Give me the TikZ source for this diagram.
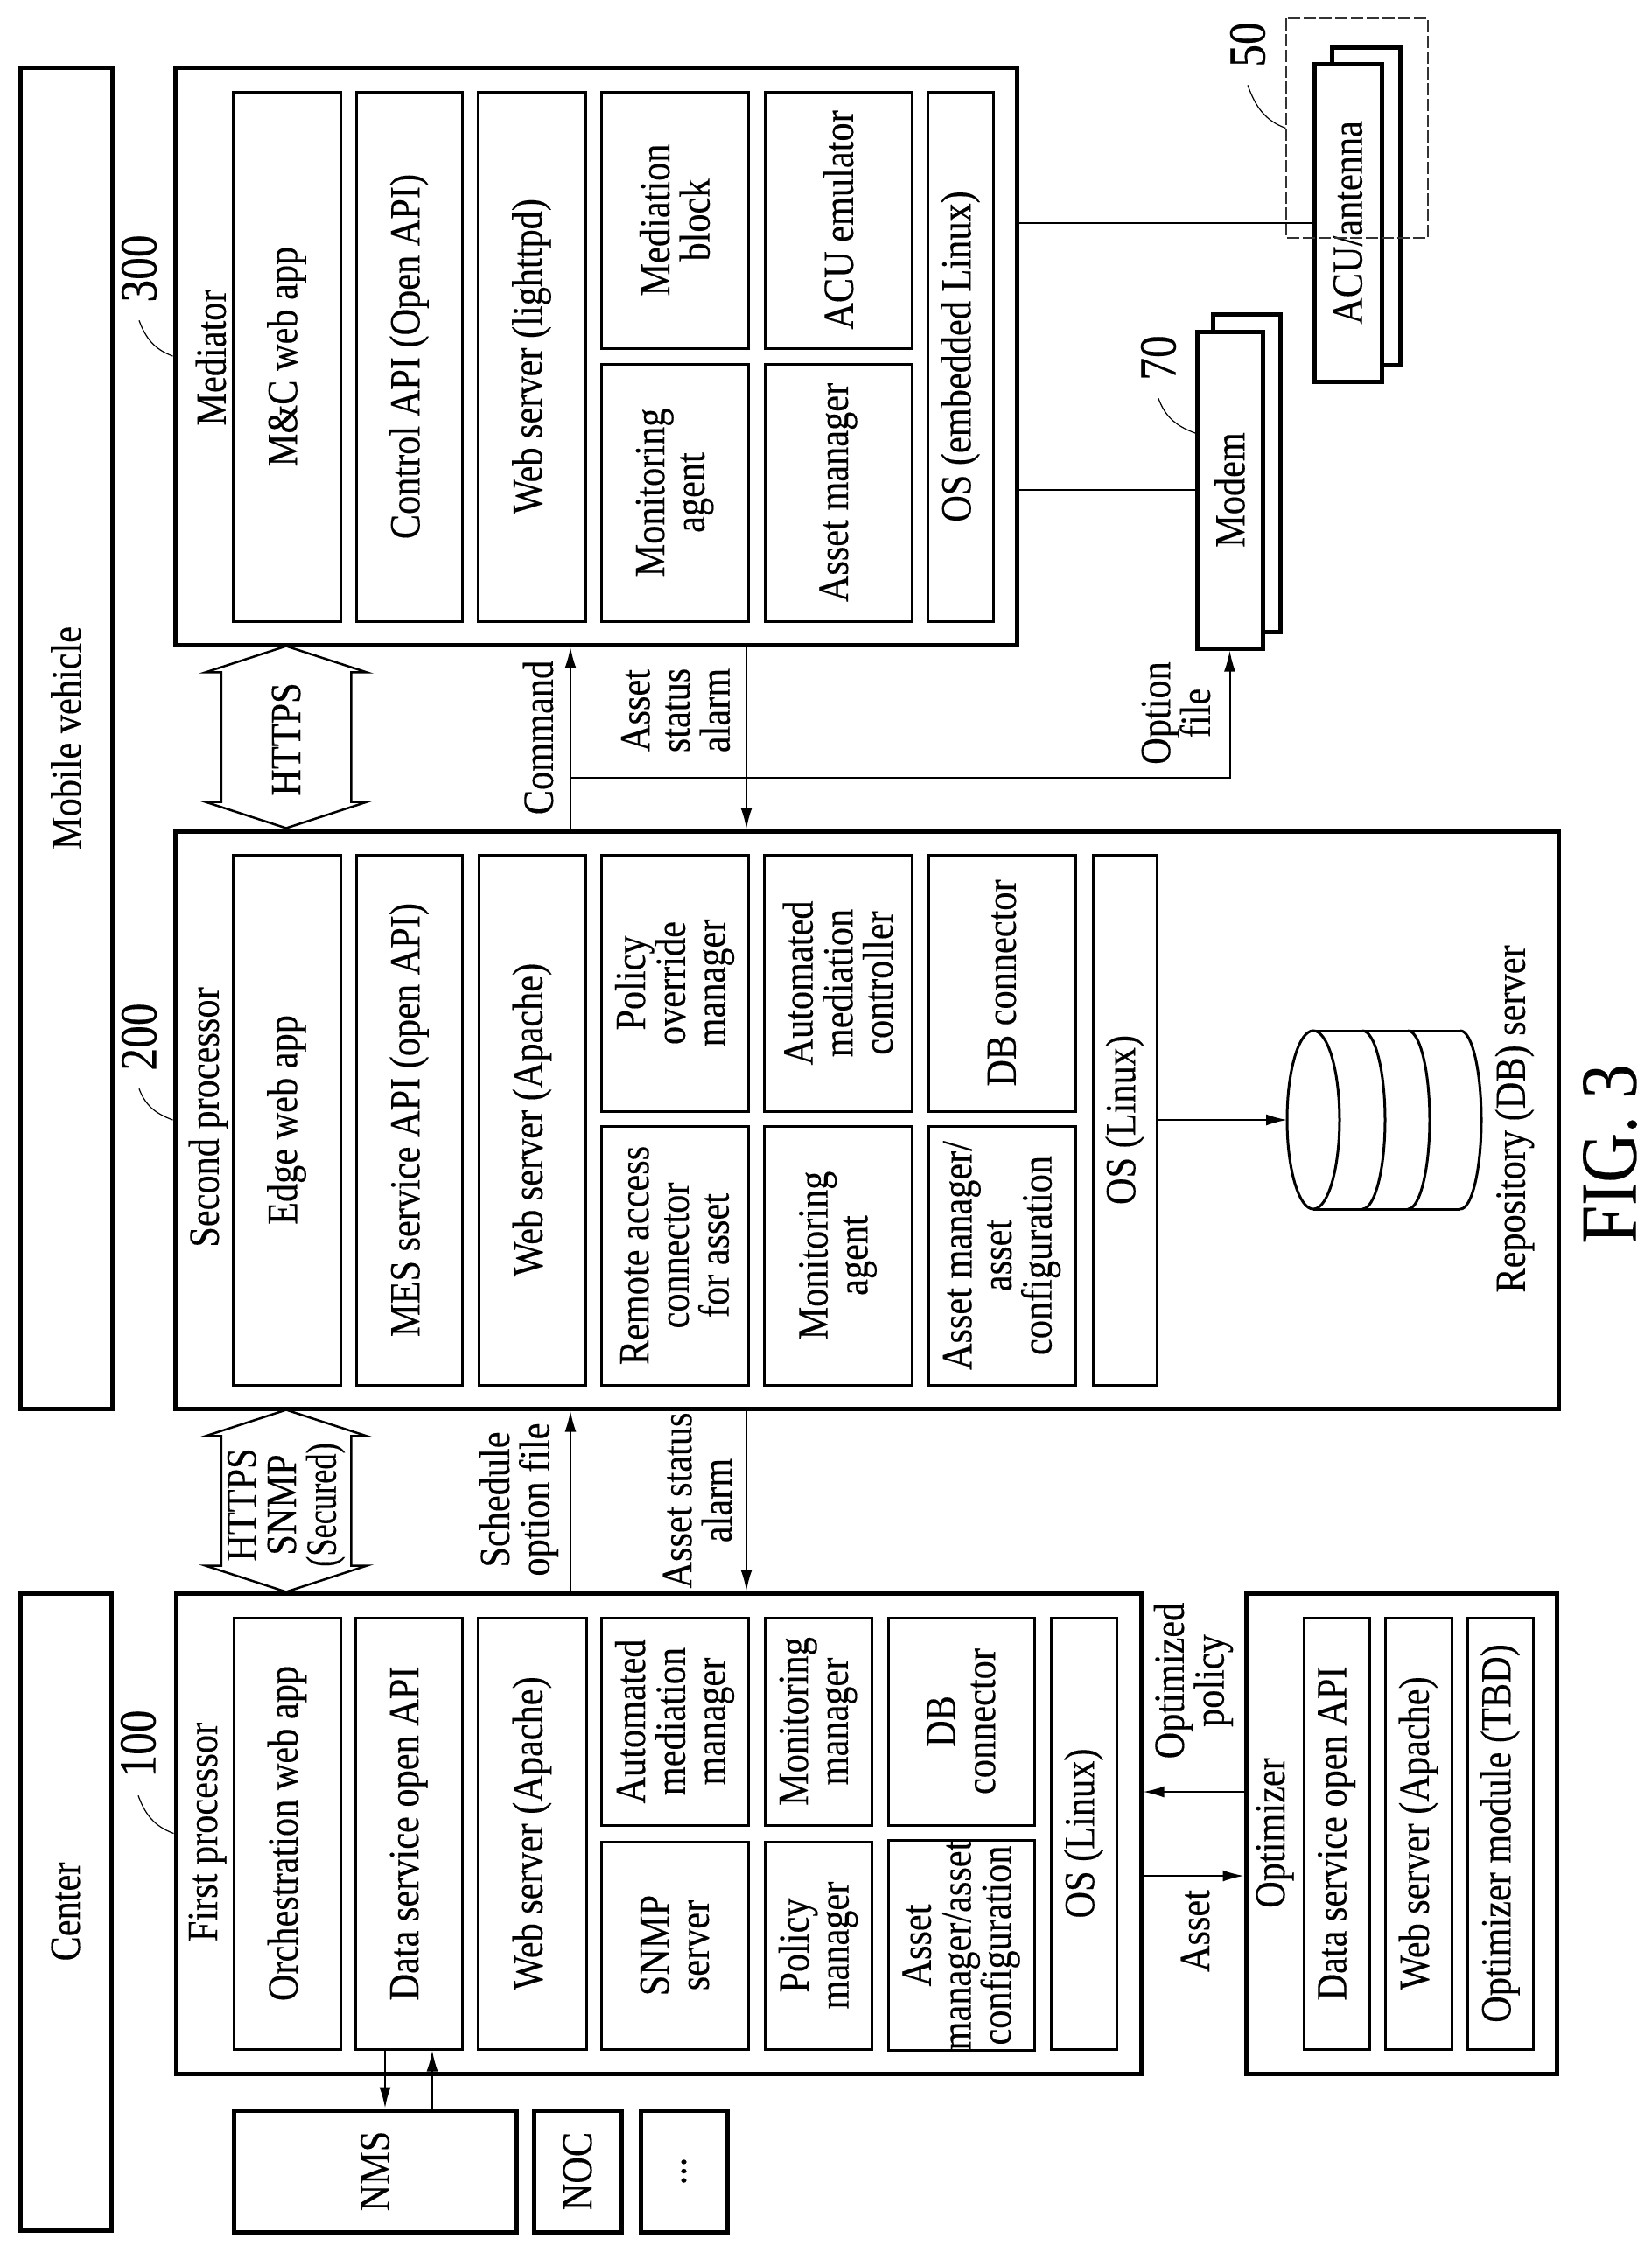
\documentclass[tikz,border=0pt]{standalone}
\usepackage{fontspec}
\setmainfont[FakeStretch=0.86,FakeBold=0.25]{Liberation Serif}
\newfontfamily\narrowserif[FakeStretch=0.74,FakeBold=0.25]{Liberation Serif}
\usetikzlibrary{calc,shapes,arrows.meta}

\tikzset{
    labeltext/.style = {rotate=90, align=center, inner sep=0pt, font=\fontsize{14}{13}\selectfont},
    regionbox/.style = {labeltext, draw, line width=0.05cm, fill=white},
    blockbox/.style = {labeltext, draw, line width=0.03cm, fill=white},
    numlabel/.style = {rotate=90, inner sep=0.2cm, font=\fontsize{17}{17}\selectfont},
    flow/.style = {line width=0.02cm, -{Latex[length=0.24cm,width=0.13cm]}},
    plainline/.style = {line width=0.02cm},
    leader/.style = {line width=0.012cm},
    drumline/.style = {line width=0.03cm},
    linkarrow/.style = {rotate=90, inner sep=0pt, draw, line width=0.025cm, double arrow, double arrow head extend=0.18cm,
        double arrow head indent=0cm, double arrow tip angle=144, text height=0.73cm, text depth=0.73cm}
}

\begin{document}
\begin{tikzpicture}
    \useasboundingbox (0,0) rectangle (18.87,-25.74);

    % sites
    \node [regionbox, minimum width=15.33cm, minimum height=1.05cm] (mobile) at (0.755,-8.435) {Mobile vehicle};
    \node [regionbox, minimum width=7.28cm, minimum height=1.04cm] (center) at (0.75,-21.85) {Center};

    % mediator
    \node [regionbox, minimum width=6.60cm, minimum height=9.62cm] (mediator) at (6.81,-4.07) {};
    \node [labeltext] (medname) at (2.41,-4.09) {Mediator};
    \node [blockbox, minimum width=6.05cm, minimum height=1.23cm] (mcapp) at (3.275,-4.075) {M\&C web app};
    \node [blockbox, minimum width=6.05cm, minimum height=1.21cm] (ctrlapi) at (4.675,-4.075) {Control API (Open API)};
    \node [blockbox, minimum width=6.05cm, minimum height=1.23cm] (medweb) at (6.075,-4.075) {Web server (lighttpd)};
    \node [blockbox, minimum width=2.93cm, minimum height=1.68cm] (medblock) at (7.71,-2.515) {Mediation\\block};
    \node [blockbox, minimum width=2.94cm, minimum height=1.68cm] (medmon) at (7.71,-5.63) {Monitoring\\agent};
    \node [blockbox, minimum width=2.93cm, minimum height=1.68cm] (acuemu) at (9.58,-2.515) {ACU emulator};
    \node [blockbox, minimum width=2.94cm, minimum height=1.68cm] (medasset) at (9.58,-5.63) {Asset manager};
    \node [blockbox, minimum width=6.05cm, minimum height=0.75cm] (medos) at (10.975,-4.075) {OS (embedded Linux)};

    % second processor
    \node [regionbox, minimum width=6.60cm, minimum height=15.81cm] (second) at (9.905,-12.80) {};
    \node [labeltext] (secname) at (2.38,-12.77) {Second processor};
    \node [blockbox, minimum width=6.06cm, minimum height=1.23cm] (edgeapp) at (3.275,-12.80) {Edge web app};
    \node [blockbox, minimum width=6.06cm, minimum height=1.21cm] (mesapi) at (4.675,-12.80) {MES service API (open API)};
    \node [blockbox, minimum width=6.06cm, minimum height=1.22cm] (secweb) at (6.08,-12.80) {Web server (Apache)};
    \node [blockbox, minimum width=2.93cm, minimum height=1.68cm] (override) at (7.71,-11.235) {Policy\\override\\manager};
    \node [blockbox, minimum width=2.96cm, minimum height=1.68cm] (remote) at (7.71,-14.35) {Remote access\\connector\\for asset};
    \node [blockbox, minimum width=2.93cm, minimum height=1.69cm] (autoctrl) at (9.575,-11.235) {Automated\\mediation\\controller};
    \node [blockbox, minimum width=2.96cm, minimum height=1.69cm] (secmon) at (9.575,-14.35) {Monitoring\\agent};
    \node [blockbox, minimum width=2.93cm, minimum height=1.68cm] (secdb) at (11.45,-11.235) {DB connector};
    \node [blockbox, minimum width=2.96cm, minimum height=1.68cm] (secasset) at (11.45,-14.35) {Asset manager/\\asset\\configuration};
    \node [blockbox, minimum width=6.06cm, minimum height=0.73cm] (secos) at (12.855,-12.80) {OS (Linux)};
    \node [labeltext] (repo) at (17.31,-12.79) {Repository (DB) server};

    % first processor
    \node [regionbox, minimum width=5.49cm, minimum height=11.03cm] (first) at (7.525,-20.955) {};
    \node [labeltext] (firstname) at (2.37,-20.94) {First processor};
    \node [blockbox, minimum width=4.93cm, minimum height=1.22cm] (orchapp) at (3.28,-20.955) {Orchestration web app};
    \node [blockbox, minimum width=4.93cm, minimum height=1.22cm] (dataapi) at (4.67,-20.955) {Data service open API};
    \node [blockbox, minimum width=4.93cm, minimum height=1.24cm] (firstweb) at (6.08,-20.955) {Web server (Apache)};
    \node [blockbox, minimum width=2.37cm, minimum height=1.68cm] (automgr) at (7.71,-19.675) {Automated\\mediation\\manager};
    \node [blockbox, minimum width=2.37cm, minimum height=1.68cm] (snmpsrv) at (7.71,-22.235) {SNMP\\server};
    \node [blockbox, minimum width=2.37cm, minimum height=1.22cm] (monmgr) at (9.35,-19.675) {Monitoring\\manager};
    \node [blockbox, minimum width=2.37cm, minimum height=1.22cm] (polmgr) at (9.35,-22.235) {Policy\\manager};
    \node [blockbox, minimum width=2.37cm, minimum height=1.67cm] (firstdb) at (10.985,-19.675) {DB\\connector};
    \node [blockbox, minimum width=2.37cm, minimum height=1.67cm] (firstasset) at (10.985,-22.235) {Asset\\manager/asset\\configuration};
    \node [blockbox, minimum width=4.93cm, minimum height=0.75cm] (firstos) at (12.385,-20.955) {OS (Linux)};

    % optimizer
    \node [regionbox, minimum width=5.49cm, minimum height=3.55cm] (optimizer) at (16.015,-20.955) {};
    \node [labeltext] (optname) at (14.57,-20.95) {Optimizer};
    \node [blockbox, minimum width=4.93cm, minimum height=0.75cm] (optapi) at (15.275,-20.955) {Data service open API};
    \node [blockbox, minimum width=4.93cm, minimum height=0.76cm] (optweb) at (16.21,-20.955) {Web server (Apache)};
    \node [blockbox, minimum width=4.93cm, minimum height=0.75cm] (optmod) at (17.145,-20.955) {Optimizer module (TBD)};

    % systems under the center
    \node [regionbox, minimum width=1.39cm, minimum height=3.23cm] (nms) at (4.285,-24.815) {NMS};
    \node [regionbox, minimum width=1.39cm, minimum height=1.00cm] (noc) at (6.60,-24.815) {NOC};
    \node [regionbox, minimum width=1.39cm, minimum height=0.99cm] (others) at (7.815,-24.815) {...};

    % stacked devices
    \node [regionbox, minimum width=3.63cm, minimum height=0.78cm] (acuback) at (15.61,-2.355) {};
    \node [regionbox, minimum width=3.63cm, minimum height=0.77cm] (acu) at (15.405,-2.545) {ACU/antenna};
    \node [regionbox, minimum width=3.63cm, minimum height=0.77cm] (modemback) at (14.245,-5.405) {};
    \node [regionbox, minimum width=3.62cm, minimum height=0.75cm] (modem) at (14.055,-5.60) {Modem};
    \node [labeltext, draw, black!80, line width=0.012cm, dash pattern=on 0.14cm off 0.04cm,
        minimum width=2.51cm, minimum height=1.62cm] (antenna) at (15.51,-1.465) {};

    % links between the sites
    \node [linkarrow, minimum height=2.08cm] (linkmed) at (3.27,-8.425) {};
    \node [linkarrow, minimum height=2.08cm] (linkfirst) at (3.27,-17.155) {};
    \node [labeltext] (httpsmed) at (3.27,-8.45) {HTTPS};
    \node [labeltext] (httpsfirst) at (3.27,-17.20) {HTTPS\\SNMP\\{\narrowserif(Secured)}};

    \coordinate (upline) at (6.52,0);
    \coordinate (downline) at (8.53,0);
    \coordinate (optionjoin) at (6.52,-8.89);
    \coordinate (nmsdown) at (4.40,0);
    \coordinate (nmsup) at (4.94,0);
    \coordinate (policyline) at (0,-20.48);
    \coordinate (assetline) at (0,-21.44);

    \draw [flow] (upline |- second.east) -- (upline |- mediator.west);
    \draw [flow] (downline |- mediator.west) -- (downline |- second.east);
    \draw [flow] (upline |- first.east) -- (upline |- second.west);
    \draw [flow] (downline |- second.west) -- (downline |- first.east);
    \draw [flow] (optionjoin) -| (modem.west);
    \draw [plainline] (modem.north) -- (modem.north -| mediator.south);
    \draw [plainline] (acu.north) -- (acu.north -| mediator.south);
    \draw [flow] (nmsdown |- dataapi.west) -- (nmsdown |- nms.east);
    \draw [flow] (nmsup |- nms.east) -- (nmsup |- dataapi.west);
    \draw [flow] (policyline -| optimizer.north) -- (policyline -| first.south);
    \draw [flow] (assetline -| first.south) -- (assetline -| optimizer.north);

    \node [labeltext] (cmdtext) at (6.15,-8.43) {Command};
    \node [labeltext] (alarmtop) at (7.72,-8.12) {Asset\\status\\alarm};
    \node [labeltext] (optiontext) at (13.44,-8.15) {Option\\file};
    \node [labeltext] (scheduletext) at (5.93,-17.14) {Schedule\\option file};
    \node [labeltext] (alarmlow) at (7.97,-17.15) {Asset status\\alarm};
    \node [labeltext] (policytext) at (13.64,-19.21) {Optimized\\policy};
    \node [labeltext] (assettext) at (13.66,-22.07) {Asset};

    % repository drum
    \coordinate (drum) at (14.71,-12.80);
    \draw [drumline] (15.01,-11.78) -- (16.69,-11.78);
    \draw [drumline] (15.01,-13.82) -- (16.69,-13.82);
    \draw [drumline] (15.01,-12.80) ellipse [x radius=0.30, y radius=1.02];
    \foreach \cx/\rx in {15.57/0.26, 16.09/0.25, 16.69/0.24}
        \draw [drumline] (\cx,-11.78) arc [start angle=90, end angle=-90, x radius=\rx, y radius=1.02];
    \draw [flow] (secos.south) -- (drum);

    % reference numerals
    \node [numlabel] (n300) at (1.59,-3.07) {300};
    \node [numlabel] (n200) at (1.59,-11.85) {200};
    \node [numlabel] (n100) at (1.58,-19.93) {100};
    \node [numlabel] (n50) at (14.26,-0.51) {50};
    \node [numlabel] (n70) at (13.24,-4.09) {70};
    \coordinate (leadmodem) at (13.66,-4.95);
    \draw [leader] (n300.west) to [out=-70, in=160] (mediator.north);
    \draw [leader] (n200.west) to [out=-70, in=160] (second.north);
    \draw [leader] (n100.west) to [out=-70, in=160] (first.north);
    \draw [leader] (n50.west) to [out=-70, in=160] (antenna.north);
    \draw [leader] (n70.west) to [out=-70, in=160] (leadmodem);

    \node [labeltext, font=\fontsize{26}{26}\selectfont] (figname) at (18.40,-13.19) {FIG. 3};
\end{tikzpicture}
\end{document}
